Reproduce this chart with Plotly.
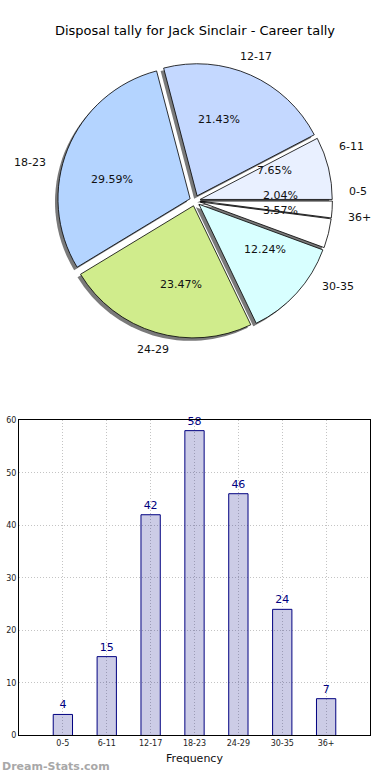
import numpy as np
import plotly.graph_objects as go

# ---------------- data ----------------
categories = ["0-5", "6-11", "12-17", "18-23", "24-29", "30-35", "36+"]
counts = [4, 15, 42, 58, 46, 24, 7]
pie_colors = ["#ffffff", "#e9f0ff", "#c4d8ff", "#b4d4ff", "#d0ec8c", "#d8ffff", "#ffffff"]
title_text = "Disposal tally for Jack Sinclair - Career tally"
x_title = "Frequency"
watermark = "Dream-Stats.com"

# ---------------- layout geometry ----------------
W, H = 390, 780
pie_cx, pie_cy, pie_half = 195, 199, 139  # px
pull = 0.04
FONT = "DejaVu Sans"

dom_x = [(pie_cx - pie_half) / W, (pie_cx + pie_half) / W]
dom_y = [1 - (pie_cy + pie_half) / H, 1 - (pie_cy - pie_half) / H]
sh = 3  # shadow offset px
sh_dom_x = [dom_x[0] - sh / W, dom_x[1] - sh / W]
sh_dom_y = [dom_y[0] - sh / H, dom_y[1] - sh / H]

# hidden text axes: 1 unit = pie_half px, spanning +-TR units
TR = 1.3
tdom_x = [(pie_cx - TR * pie_half) / W, (pie_cx + TR * pie_half) / W]
tdom_y = [1 - (pie_cy + TR * pie_half) / H, 1 - (pie_cy - TR * pie_half) / H]

fig = go.Figure()

# shadow pie
fig.add_trace(go.Pie(
    labels=categories, values=counts, sort=False, direction="counterclockwise",
    rotation=90, pull=[pull] * len(counts),
    marker=dict(colors=["#7a7a7a"] * len(counts), line=dict(width=0)),
    textinfo="none", hoverinfo="skip", showlegend=False,
    domain=dict(x=sh_dom_x, y=sh_dom_y),
))
# main pie
fig.add_trace(go.Pie(
    labels=categories, values=counts, sort=False, direction="counterclockwise",
    rotation=90, pull=[pull] * len(counts),
    marker=dict(colors=pie_colors, line=dict(color="#000000", width=0.8)),
    textinfo="none", showlegend=False,
    domain=dict(x=dom_x, y=dom_y),
))

# label / percentage text positions derived from the values (matplotlib-style)
vals = np.array(counts, dtype=float)
total = vals.sum()
cum = np.cumsum(vals)
theta = 2 * np.pi * (cum - vals / 2) / total
r = 1 / (1 + pull)
off = pull * r
lab_d = off + 1.1 * r
pct_d = off + 0.6 * r
lab_x = lab_d * np.cos(theta)
lab_y = lab_d * np.sin(theta)
pct_x = pct_d * np.cos(theta)
pct_y = pct_d * np.sin(theta)
pct_text = [f"{v / total * 100:.2f}%" for v in vals]

annotations = []
for i, cat in enumerate(categories):
    annotations.append(dict(
        text=cat, x=lab_x[i], y=lab_y[i], xref="x2", yref="y2", showarrow=False,
        xanchor="left" if lab_x[i] >= 0 else "right", yanchor="middle",
        font=dict(family=FONT, size=11, color="#111111")))
    annotations.append(dict(
        text=pct_text[i], x=pct_x[i], y=pct_y[i], xref="x2", yref="y2", showarrow=False,
        xanchor="center", yanchor="middle",
        font=dict(family=FONT, size=11, color="#111111")))

annotations.append(dict(text=watermark, x=0, xanchor="left", y=1 - 771 / H, yanchor="middle",
                        xref="paper", yref="paper", showarrow=False,
                        font=dict(family=FONT, size=11, color="#a8a8a8", weight="bold")))

# bar chart
fig.add_trace(go.Bar(
    x=categories, y=counts, width=0.44,
    marker=dict(color="rgba(0,0,128,0.2)", line=dict(color="#000080", width=1)),
    text=[str(c) for c in counts], textposition="outside",
    textfont=dict(family=FONT, size=11, color="#000080"),
    cliponaxis=False, showlegend=False, xaxis="x", yaxis="y",
))
# invisible anchor trace for the hidden pie-text axes
fig.add_trace(go.Scatter(x=[-TR, TR], y=[-TR, TR], mode="markers", marker=dict(opacity=0),
                         xaxis="x2", yaxis="y2", hoverinfo="skip", showlegend=False))

fig.update_layout(
    width=W, height=H, margin=dict(l=0, r=0, t=0, b=0),
    paper_bgcolor="white", plot_bgcolor="white",
    font=dict(family=FONT, color="#111111"),
    title=dict(text=title_text, x=0.5, xanchor="center", y=1 - 30 / H, yanchor="middle",
               font=dict(family=FONT, size=13, color="#000000")),
    xaxis=dict(domain=[19 / W, 370 / W], anchor="y", type="category", range=[-1, 7],
               showgrid=True, gridcolor="#c4c4c4", griddash="1px,2px", gridwidth=1,
               showline=True, mirror=True, linecolor="#000000", linewidth=1,
               ticks="", tickfont=dict(family=FONT, size=8, color="#222222"),
               title=dict(text=x_title, font=dict(family=FONT, size=11, color="#111111"), standoff=7),
               zeroline=False),
    yaxis=dict(domain=[1 - 740 / H, 1 - 421 / H], anchor="x", range=[0, 60], dtick=10,
               showgrid=True, gridcolor="#c4c4c4", griddash="1px,2px", gridwidth=1,
               showline=True, mirror=True, linecolor="#000000", linewidth=1,
               ticks="", tickfont=dict(family=FONT, size=8, color="#222222"),
               zeroline=False),
    xaxis2=dict(domain=tdom_x, anchor="y2", range=[-TR, TR], visible=False, fixedrange=True),
    yaxis2=dict(domain=tdom_y, anchor="x2", range=[-TR, TR], visible=False, fixedrange=True),
    annotations=annotations,
)

fig.write_html("out.html", config={"displayModeBar": False},
               post_script="document.body.style.margin='0';")
